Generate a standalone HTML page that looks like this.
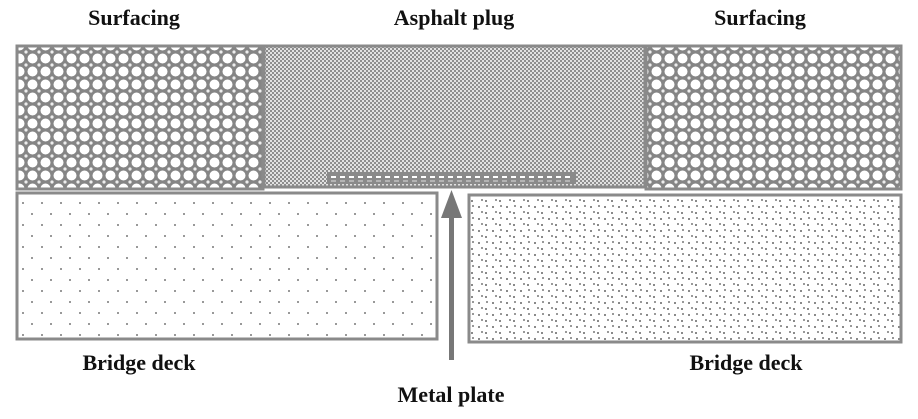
<!DOCTYPE html>
<html><head><style>
body{margin:0;background:#fff;width:918px;height:414px;overflow:hidden}
text{font-family:"Liberation Serif",serif;font-weight:bold;font-size:22px;fill:#111}
</style></head><body>
<svg width="918" height="414" xmlns="http://www.w3.org/2000/svg">
<defs>
<pattern id="cross" width="13" height="13" patternUnits="userSpaceOnUse">
<rect width="13" height="13" fill="#858585"/>
<circle cx="6.5" cy="6.5" r="5" fill="#fff"/>
<circle cx="0" cy="0" r="1.6" fill="#eee"/><circle cx="13" cy="0" r="1.6" fill="#eee"/>
<circle cx="0" cy="13" r="1.6" fill="#eee"/><circle cx="13" cy="13" r="1.6" fill="#eee"/>
</pattern>
<pattern id="check" width="4" height="4" patternUnits="userSpaceOnUse">
<rect width="4" height="4" fill="#e2e2e2"/>
<rect width="2" height="2" fill="#8e8e8e"/><rect x="2" y="2" width="2" height="2" fill="#8e8e8e"/>
</pattern>
<pattern id="dots1" width="19" height="22" patternUnits="userSpaceOnUse">
<rect width="19" height="22" fill="#fff"/>
<rect x="3" y="4" width="2" height="2" fill="#999"/>
<rect x="12" y="15" width="2" height="2" fill="#999"/>
</pattern>
<pattern id="dots2" width="14" height="12" patternUnits="userSpaceOnUse">
<rect width="14" height="12" fill="#fff"/>
<rect x="2" y="2" width="2" height="2" fill="#8a8a8a"/>
<rect x="9" y="8" width="2" height="2" fill="#8a8a8a"/>
<rect x="10" y="1" width="2" height="2" fill="#999"/>
<rect x="5" y="7" width="2" height="2" fill="#999"/>
</pattern>
</defs>
<g stroke="#8a8a8a" stroke-width="3">
<rect x="17" y="46" width="246" height="143" fill="url(#cross)"/>
<rect x="264" y="46" width="381" height="141" fill="url(#check)"/>
<rect x="646" y="46" width="255" height="143" fill="url(#cross)"/>
<rect x="17" y="193" width="420" height="146" fill="url(#dots1)"/>
<rect x="469" y="195" width="432" height="147" fill="url(#dots2)"/>
</g>
<rect x="327" y="172" width="249" height="12" fill="#8a8a8a"/>
<line x1="331" y1="177" x2="573" y2="177" stroke="#fff" stroke-width="2" stroke-dasharray="5,4"/>
<line x1="331" y1="181" x2="573" y2="181" stroke="#ddd" stroke-width="1" stroke-dasharray="5,4"/>
<rect x="449" y="214" width="5" height="146" fill="#777"/>
<polygon points="451.5,190 441,218 462,218" fill="#777"/>
<text x="134" y="25" text-anchor="middle">Surfacing</text>
<text x="454" y="25" text-anchor="middle">Asphalt plug</text>
<text x="760" y="25" text-anchor="middle">Surfacing</text>
<text x="139" y="370" text-anchor="middle">Bridge deck</text>
<text x="746" y="370" text-anchor="middle">Bridge deck</text>
<text x="451" y="402" text-anchor="middle">Metal plate</text>
</svg>
</body></html>
